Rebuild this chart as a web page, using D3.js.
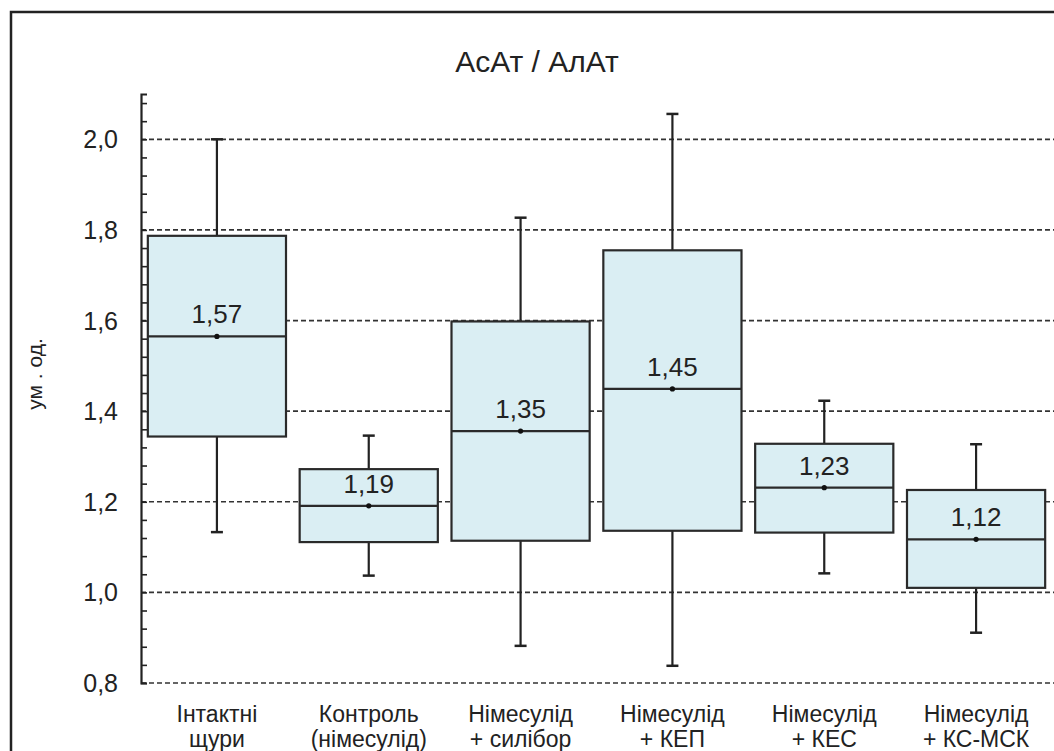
<!DOCTYPE html>
<html>
<head>
<meta charset="utf-8">
<script src="https://cdn.jsdelivr.net/npm/d3@7"></script>
<style>
  body { margin: 0; background: #fff; }
  text { font-family: "Liberation Sans", Arial, sans-serif; fill: #222; }
</style>
</head>
<body>
<script>
const groups = [
  ['Інтактні', 'щури'],
  ['Контроль', '(німесулід)'],
  ['Німесулід', '+ силібор'],
  ['Німесулід', '+ КЕП'],
  ['Німесулід', '+ КЕС'],
  ['Німесулід', '+ КС-МСК']
]
const whiskerLow = [1.133, 1.037, 0.882, 0.838, 1.042, 0.911]
const q1 = [1.344, 1.111, 1.114, 1.136, 1.132, 1.010]
const median = [1.565, 1.191, 1.356, 1.449, 1.231, 1.117]
const q3 = [1.787, 1.272, 1.598, 1.755, 1.328, 1.226]
const whiskerHigh = [2.0, 1.346, 1.827, 2.056, 1.423, 1.327]
const medianLabels = ['1,57', '1,19', '1,35', '1,45', '1,23', '1,12']
const yTicks = [0.8, 1.0, 1.2, 1.4, 1.6, 1.8, 2.0]

const width = 1054
const height = 751
const margin = { top: 94, right: 2, bottom: 68, left: 141 }

const data = groups.map((g, i) => ({
  i, label: g,
  low: whiskerLow[i], q1: q1[i], med: median[i], q3: q3[i], high: whiskerHigh[i],
  text: medianLabels[i]
}))

const x = d3.scaleBand()
  .domain(d3.range(groups.length))
  .range([margin.left, width - margin.right])

const y = d3.scaleLinear()
  .domain([0.8, 2.1])
  .range([height - margin.bottom, margin.top])

const svg = d3.select('body')
  .append('svg')
  .attr('width', width)
  .attr('height', height)

// outer frame (cut off by the picture on right and bottom)
svg.append('rect')
  .attr('x', 11).attr('y', 12)
  .attr('width', width + 20).attr('height', height + 20)
  .attr('fill', 'none')
  .attr('stroke', '#222')
  .attr('stroke-width', 2.5)

svg.append('text')
  .attr('x', 537).attr('y', 72)
  .attr('text-anchor', 'middle')
  .style('font-size', '30px')
  .text('АсАт / АлАт')

// dashed grid
svg.append('g')
  .selectAll('line')
  .data(yTicks)
  .enter()
  .append('line')
  .attr('x1', margin.left).attr('x2', width)
  .attr('y1', d => y(d)).attr('y2', d => y(d))
  .attr('stroke', '#333')
  .attr('stroke-width', 1.7)
  .attr('stroke-dasharray', '5,3')

// y axis with minor ticks pointing inward
const yAxis = d3.axisRight(y)
  .tickValues(d3.range(0, 33).map(k => 0.8 + k * 0.04))
  .tickSize(6)
  .tickFormat('')

const ax = svg.append('g')
  .attr('transform', `translate(${margin.left},0)`)
  .call(yAxis)
ax.select('.domain').attr('stroke', '#222').attr('stroke-width', 2.2)
ax.selectAll('.tick line').attr('stroke', '#222').attr('stroke-width', 1.6)

svg.append('g')
  .selectAll('text')
  .data(yTicks)
  .enter()
  .append('text')
  .attr('x', 118)
  .attr('y', d => y(d) + 9)
  .attr('text-anchor', 'end')
  .style('font-size', '25px')
  .text(d => d3.format('.1f')(d).replace('.', ','))

svg.append('text')
  .attr('transform', 'translate(42,374) rotate(-90)')
  .attr('text-anchor', 'middle')
  .style('font-size', '21px')
  .text('ум . од.')

// boxes
const boxW = x.bandwidth() * 0.91
const cx = d => x(d.i) + x.bandwidth() / 2

const box = svg.append('g')
  .selectAll('g')
  .data(data)
  .enter()
  .append('g')

box.append('line')
  .attr('x1', cx).attr('x2', cx)
  .attr('y1', d => y(d.high)).attr('y2', d => y(d.low))
  .attr('stroke', '#222').attr('stroke-width', 2.2)

box.selectAll('.cap')
  .data(d => [d.low, d.high].map(v => ({ v, d })))
  .enter()
  .append('line')
  .attr('x1', e => cx(e.d) - 6).attr('x2', e => cx(e.d) + 6)
  .attr('y1', e => y(e.v)).attr('y2', e => y(e.v))
  .attr('stroke', '#222').attr('stroke-width', 2.5)

box.append('rect')
  .attr('x', d => cx(d) - boxW / 2)
  .attr('y', d => y(d.q3))
  .attr('width', boxW)
  .attr('height', d => y(d.q1) - y(d.q3))
  .attr('fill', '#daeef3')
  .attr('stroke', '#2a2a2a')
  .attr('stroke-width', 2.2)

box.append('line')
  .attr('x1', d => cx(d) - boxW / 2).attr('x2', d => cx(d) + boxW / 2)
  .attr('y1', d => y(d.med)).attr('y2', d => y(d.med))
  .attr('stroke', '#2a2a2a').attr('stroke-width', 2.2)

box.append('circle')
  .attr('cx', cx).attr('cy', d => y(d.med))
  .attr('r', 2.6)
  .attr('fill', '#111')

box.append('text')
  .attr('x', cx).attr('y', d => y(d.med) - 13)
  .attr('text-anchor', 'middle')
  .style('font-size', '26px')
  .text(d => d.text)

// category labels
const cat = svg.append('g')
  .selectAll('text')
  .data(data)
  .enter()
  .append('text')
  .attr('text-anchor', 'middle')
  .style('font-size', '23px')

cat.append('tspan')
  .attr('x', cx).attr('y', 722)
  .text(d => d.label[0])
cat.append('tspan')
  .attr('x', cx).attr('y', 747)
  .text(d => d.label[1])
</script>
</body>
</html>
